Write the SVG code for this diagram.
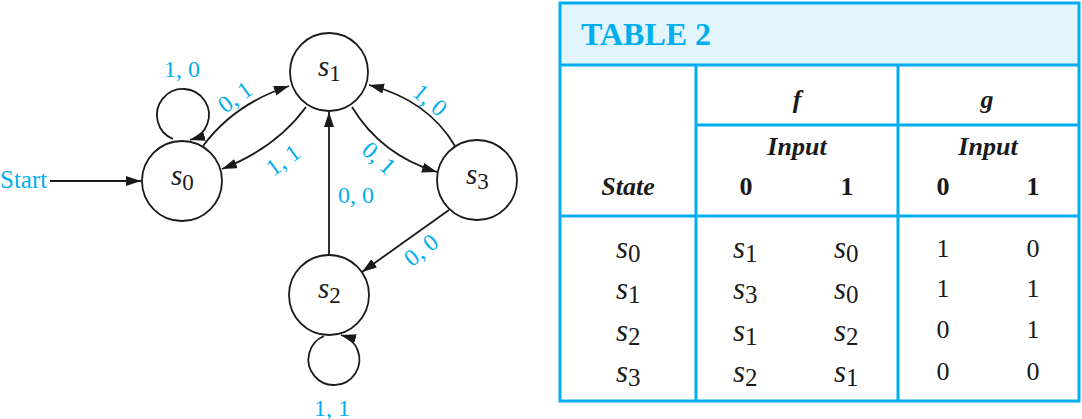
<svg xmlns="http://www.w3.org/2000/svg" width="1082" height="419" viewBox="0 0 1082 419">
<style>
.node{fill:#fff;stroke:#1a1a1a;stroke-width:1.8}
.edge{fill:none;stroke:#1a1a1a;stroke-width:1.8}
.lbl{font-family:'Liberation Serif','Times New Roman',serif;font-size:24px;fill:#00aeef}
.sl{font-family:'Liberation Serif','Times New Roman',serif;font-size:29px;font-style:italic;fill:#1a1a1a}
.sub{font-style:normal;font-size:23px}
.tl{stroke:#00aeef;stroke-width:3;fill:none}
.hd{font-family:'Liberation Serif','Times New Roman',serif;font-size:26px;font-weight:bold;fill:#1a1a1a;text-anchor:middle}
.hi{font-style:italic}
.cell{font-family:'Liberation Serif','Times New Roman',serif;font-size:26px;fill:#1a1a1a}
.cs{font-style:italic;font-size:31px}
.csub{font-style:normal;font-size:25px}
</style>
<defs>
<marker id="arr" markerUnits="userSpaceOnUse" markerWidth="16" markerHeight="12" refX="15" refY="5" orient="auto">
<path d="M0,0 L15,5 L0,10 Z" fill="#1a1a1a"/>
</marker>
</defs>
<g id="connectors">
<path class="edge" d="M50,181 L141,181" marker-end="url(#arr)"/>
<path class="edge" d="M203,146 Q234,104 289,86" marker-end="url(#arr)"/>
<path class="edge" d="M306,107 Q276,148 222,169" marker-end="url(#arr)"/>
<path class="edge" d="M352,107 Q381,155 437,172" marker-end="url(#arr)"/>
<path class="edge" d="M455,146 Q428,100 369,85" marker-end="url(#arr)"/>
<path class="edge" d="M329,256 L329,112" marker-end="url(#arr)"/>
<path class="edge" d="M449,210 L362,272" marker-end="url(#arr)"/>
<path class="edge" d="M173,139 A26,26 0 1 1 190,140" marker-end="url(#arr)"/>
<path class="edge" d="M324,336 A25.5,25.5 0 1 0 341,335" marker-end="url(#arr)"/>
<text class="lbl" x="0" y="188" style="font-size:25px">Start</text>
<text class="lbl" x="182" y="77" text-anchor="middle">1, 0</text>
<text class="lbl" x="235" y="105" text-anchor="middle" transform="rotate(-36 235 97)">0, 1</text>
<text class="lbl" x="283" y="168" text-anchor="middle" transform="rotate(-36 283 160)">1, 1</text>
<text class="lbl" x="379" y="166" text-anchor="middle" transform="rotate(42 379 158)">0, 1</text>
<text class="lbl" x="430" y="108" text-anchor="middle" transform="rotate(40 430 100)">1, 0</text>
<text class="lbl" x="356" y="203" text-anchor="middle">0, 0</text>
<text class="lbl" x="421" y="258" text-anchor="middle" transform="rotate(-38 421 250)">0, 0</text>
<text class="lbl" x="332" y="416" text-anchor="middle">1, 1</text>
</g>
<g id="s0"><circle class="node" cx="182" cy="181" r="40"/><text class="sl" x="171" y="185">s<tspan class="sub" dy="5">0</tspan></text></g>
<g id="s1"><circle class="node" cx="329" cy="72" r="39"/><text class="sl" x="318" y="76">s<tspan class="sub" dy="5">1</tspan></text></g>
<g id="s2"><circle class="node" cx="329" cy="295" r="40"/><text class="sl" x="318" y="298">s<tspan class="sub" dy="5">2</tspan></text></g>
<g id="s3"><circle class="node" cx="477" cy="180" r="40"/><text class="sl" x="466" y="184">s<tspan class="sub" dy="5">3</tspan></text></g>
<g id="table">
<rect x="560" y="3" width="519" height="62" fill="#e3f5fc"/>
<rect class="tl" x="560" y="3" width="519" height="398"/>
<line class="tl" x1="560" y1="65" x2="1079" y2="65"/>
<line class="tl" x1="696" y1="65" x2="696" y2="401"/>
<line class="tl" x1="898" y1="65" x2="898" y2="401"/>
<line class="tl" x1="696" y1="125" x2="1079" y2="125"/>
<line class="tl" x1="560" y1="216" x2="1079" y2="216"/>
<text x="581" y="45" style="font-family:'Liberation Serif','Times New Roman',serif;font-size:32px;font-weight:bold;fill:#00aeef">TABLE 2</text>
<text class="hd hi" x="797" y="108">f</text>
<text class="hd hi" x="987" y="108">g</text>
<text class="hd hi" x="797" y="155">Input</text>
<text class="hd hi" x="988" y="155">Input</text>
<text class="hd hi" x="628" y="195">State</text>
<text class="hd" x="746" y="195">0</text>
<text class="hd" x="847" y="195">1</text>
<text class="hd" x="943" y="195">0</text>
<text class="hd" x="1033" y="195">1</text>
<text class="cell" x="616" y="258"><tspan class="cs">s</tspan><tspan class="csub" dy="4">0</tspan></text>
<text class="cell" x="616" y="299"><tspan class="cs">s</tspan><tspan class="csub" dy="4">1</tspan></text>
<text class="cell" x="616" y="341"><tspan class="cs">s</tspan><tspan class="csub" dy="4">2</tspan></text>
<text class="cell" x="616" y="382"><tspan class="cs">s</tspan><tspan class="csub" dy="4">3</tspan></text>
<text class="cell" x="733" y="258"><tspan class="cs">s</tspan><tspan class="csub" dy="4">1</tspan></text>
<text class="cell" x="733" y="299"><tspan class="cs">s</tspan><tspan class="csub" dy="4">3</tspan></text>
<text class="cell" x="733" y="341"><tspan class="cs">s</tspan><tspan class="csub" dy="4">1</tspan></text>
<text class="cell" x="733" y="382"><tspan class="cs">s</tspan><tspan class="csub" dy="4">2</tspan></text>
<text class="cell" x="834" y="258"><tspan class="cs">s</tspan><tspan class="csub" dy="4">0</tspan></text>
<text class="cell" x="834" y="299"><tspan class="cs">s</tspan><tspan class="csub" dy="4">0</tspan></text>
<text class="cell" x="834" y="341"><tspan class="cs">s</tspan><tspan class="csub" dy="4">2</tspan></text>
<text class="cell" x="834" y="382"><tspan class="cs">s</tspan><tspan class="csub" dy="4">1</tspan></text>
<g text-anchor="middle">
<text class="cell" x="943" y="257">1</text>
<text class="cell" x="1033" y="257">0</text>
<text class="cell" x="943" y="297">1</text>
<text class="cell" x="1033" y="297">1</text>
<text class="cell" x="943" y="338">0</text>
<text class="cell" x="1033" y="338">1</text>
<text class="cell" x="943" y="380">0</text>
<text class="cell" x="1033" y="380">0</text>
</g>
</g>
</svg>
